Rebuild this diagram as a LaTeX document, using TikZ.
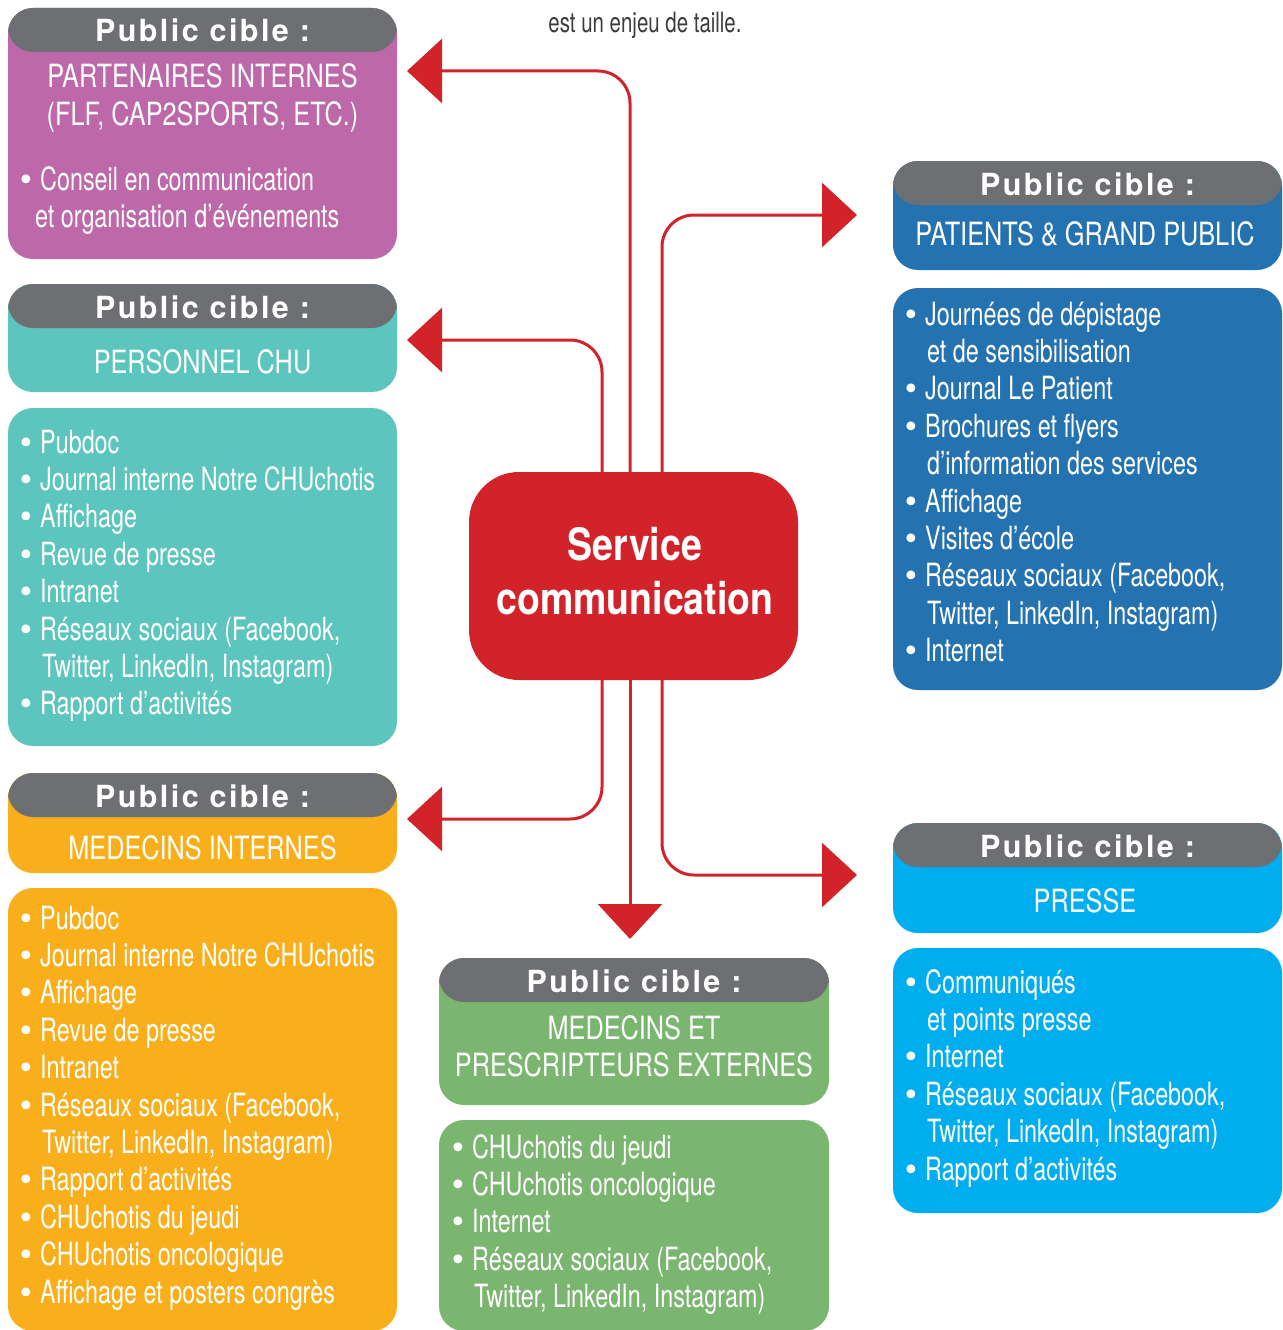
\documentclass[tikz,border=0pt]{standalone}
\usepackage{fontspec}
\setmainfont{TeX Gyre Heros}[FakeStretch=0.73]
\newfontfamily\hdrfont{TeX Gyre Heros}[FakeStretch=0.79]
\newfontfamily\titlefont{TeX Gyre Heros}[LetterSpace=8]
\newfontfamily\scfont{TeX Gyre Heros}[FakeStretch=0.84]
\newfontfamily\bulfont{DejaVu Sans}
\usetikzlibrary{arrows.meta}
\definecolor{hgray}{HTML}{6D6F72}
\definecolor{cpurple}{HTML}{BD68A9}
\definecolor{cteal}{HTML}{5CC5BD}
\definecolor{corange}{HTML}{F9AF1B}
\definecolor{cblue}{HTML}{2572B1}
\definecolor{ccyan}{HTML}{00AEEF}
\definecolor{cgreen}{HTML}{7AB66F}
\definecolor{cred}{HTML}{D2232A}
\definecolor{cdark}{HTML}{3C3C3C}
\newcommand{\bul}{\makebox[18pt][l]{\hspace*{-5pt}{\bulfont\fontsize{30pt}{30pt}\selectfont •}}}
\newcommand{\cont}{\hspace*{20pt}}
\newcommand{\bodysize}{\fontsize{32pt}{37.4pt}\selectfont}
\tikzset{
  tbox/.style={rectangle, rounded corners=25pt, minimum width=389pt, inner sep=0pt, draw=none},
  hdr/.style={path picture={\fill[hgray] (path picture bounding box.north west) rectangle ([yshift=-44pt]path picture bounding box.north east);}},
  ttl/.style={anchor=base, inner sep=0pt, text=white, font=\titlefont\bfseries\fontsize{30.5pt}{32pt}\selectfont},
  htxt/.style={anchor=base, inner sep=0pt, text=white, font=\hdrfont\fontsize{32pt}{37pt}\selectfont},
  lst/.style={anchor=base west, inner sep=0pt, text=white, font=\bodysize},
  conn/.style={draw=cred, line width=3pt, rounded corners=32pt, -{Triangle[length=35pt,width=64pt]}}
}
\begin{document}
\begin{tikzpicture}[x=1pt,y=-1pt]
\fill[white] (0,0) rectangle (1282,1330);
\useasboundingbox (0,0) rectangle (1282,1330);

% intro text
\node[anchor=base, inner sep=0pt, text=cdark, font=\fontsize{28pt}{30pt}\selectfont] (intro) at (645,33) {est un enjeu de taille.};

% boxes
\node[tbox, hdr, fill=cpurple, minimum height=251pt] (partner) at (202.5,133.5) {};
\node[tbox, hdr, fill=cteal, minimum height=108pt] (perhdr) at (202.5,338) {};
\node[tbox, fill=cteal, minimum height=338pt] (perlist) at (202.5,577) {};
\node[tbox, hdr, fill=corange, minimum height=100pt] (medhdr) at (202.5,823) {};
\node[tbox, fill=corange, minimum height=443pt] (medlist) at (202.5,1109.5) {};
\node[tbox, hdr, fill=cblue, minimum height=109pt] (pathdr) at (1087.5,215.5) {};
\node[tbox, fill=cblue, minimum height=402pt] (patlist) at (1087.5,489) {};
\node[tbox, hdr, fill=ccyan, minimum height=110pt] (preshdr) at (1087.5,878) {};
\node[tbox, fill=ccyan, minimum height=265pt] (preslist) at (1087.5,1080.5) {};
\node[tbox, hdr, fill=cgreen, minimum width=390pt, minimum height=147pt] (exthdr) at (634,1031.5) {};
\node[tbox, fill=cgreen, minimum width=390pt, minimum height=211pt] (extlist) at (634,1225.5) {};

% central node
\node[rectangle, rounded corners=50pt, fill=cred, minimum width=329pt, minimum height=208pt, inner sep=0pt] (sc) at (633.5,576) {};
\node[anchor=base, inner sep=0pt, text=white, font=\scfont\bfseries\fontsize{44.6pt}{54pt}\selectfont] (sctext) at (635,560) {\parbox[t]{320pt}{\centering Service\\communication}};

% titles
\node[ttl] (t1) at (202.5,42) {Public cible :};
\node[ttl] (t2) at (202.5,318) {Public cible :};
\node[ttl] (t3) at (202.5,807) {Public cible :};
\node[ttl] (t4) at (1087.5,195) {Public cible :};
\node[ttl] (t5) at (1087.5,857) {Public cible :};
\node[ttl] (t6) at (634,992) {Public cible :};

% header texts
\node[htxt] (h1) at (202.5,88) {\parbox[t]{385pt}{\centering PARTENAIRES INTERNES\\(FLF, CAP2SPORTS, ETC.)}};
\node[htxt] (h2) at (202.5,373) {PERSONNEL CHU};
\node[htxt] (h3) at (202.5,859) {MEDECINS INTERNES};
\node[htxt] (h4) at (1085,245) {PATIENTS \& GRAND PUBLIC};
\node[htxt] (h5) at (1085,912) {PRESSE};
\node[htxt] (h6) at (634,1039) {\parbox[t]{385pt}{\centering MEDECINS ET\\PRESCRIPTEURS EXTERNES}};

% lists
\node[lst] (l1) at (22,190) {\parbox[t]{370pt}{\bul Conseil en communication\\\hspace*{13pt}et organisation d’événements}};
\node[lst] (l2) at (22,453) {\parbox[t]{370pt}{\bul Pubdoc\\\bul Journal interne Notre CHUchotis\\\bul Affichage\\\bul Revue de presse\\\bul Intranet\\\bul Réseaux sociaux (Facebook,\\\cont Twitter, LinkedIn, Instagram)\\\bul Rapport d’activités}};
\node[lst] (l3) at (22,929) {\parbox[t]{370pt}{\bul Pubdoc\\\bul Journal interne Notre CHUchotis\\\bul Affichage\\\bul Revue de presse\\\bul Intranet\\\bul Réseaux sociaux (Facebook,\\\cont Twitter, LinkedIn, Instagram)\\\bul Rapport d’activités\\\bul CHUchotis du jeudi\\\bul CHUchotis oncologique\\\bul Affichage et posters congrès}};
\node[lst] (l4) at (907,325) {\parbox[t]{370pt}{\bul Journées de dépistage\\\cont et de sensibilisation\\\bul Journal Le Patient\\\bul Brochures et flyers\\\cont d’information des services\\\bul Affichage\\\bul Visites d’école\\\bul Réseaux sociaux (Facebook,\\\cont Twitter, LinkedIn, Instagram)\\\bul Internet}};
\node[lst] (l5) at (907,993) {\parbox[t]{370pt}{\bul Communiqués\\\cont et points presse\\\bul Internet\\\bul Réseaux sociaux (Facebook,\\\cont Twitter, LinkedIn, Instagram)\\\bul Rapport d’activités}};
\node[lst] (l6) at (454,1158) {\parbox[t]{370pt}{\bul CHUchotis du jeudi\\\bul CHUchotis oncologique\\\bul Internet\\\bul Réseaux sociaux (Facebook,\\\cont Twitter, LinkedIn, Instagram)}};

% connectors
\coordinate (xa) at (602,0);
\coordinate (xb) at (630,0);
\coordinate (xc) at (662,0);
\coordinate (tip1) at (407,71);
\coordinate (tip2) at (857,215);
\coordinate (tip3) at (407,340);
\coordinate (tip4) at (407,819);
\coordinate (tip5) at (630,939);
\coordinate (tip6) at (857,875);
\draw[conn] (sc.north -| xb) |- (tip1);
\draw[conn] (sc.north -| xc) |- (tip2);
\draw[conn] (sc.north -| xa) |- (tip3);
\draw[conn] (sc.south -| xa) |- (tip4);
\draw[conn] (sc.south -| xb) -- (tip5);
\draw[conn] (sc.south -| xc) |- (tip6);
\end{tikzpicture}
\end{document}
